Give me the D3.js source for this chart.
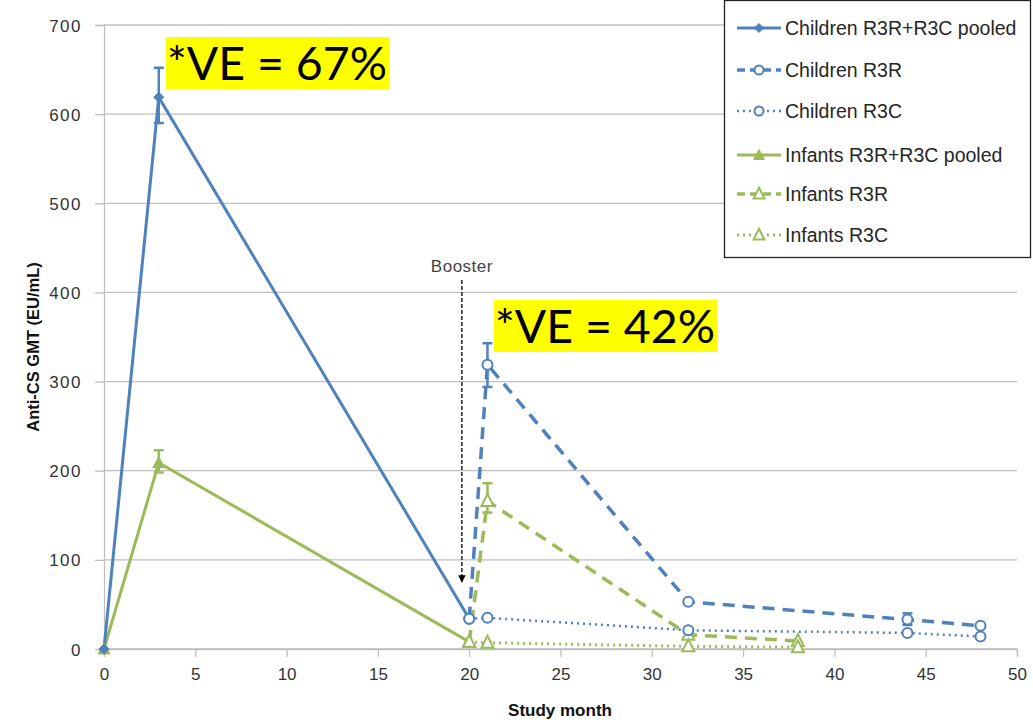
<!DOCTYPE html>
<html><head><meta charset="utf-8">
<script src="https://cdn.jsdelivr.net/npm/d3@7"></script>
<style>body{margin:0;background:#fff}svg{display:block}</style>
</head><body>
<svg id="c" width="1033" height="720"></svg>
<script>
const xTicks = [0,5,10,15,20,25,30,35,40,45,50];
const yTicks = [0,100,200,300,400,500,600,700];

const childPooledX = [0,3,20];
const childPooledY = [0,619,34];
const childR3RX = [20,21,32,44,48];
const childR3RY = [34,319,53,33,26];
const childR3CX = [20,21,32,44,48];
const childR3CY = [34,35,21,18,14];
const infPooledX = [0,3,20];
const infPooledY = [0,209,8];
const infR3RX = [20,21,32,38];
const infR3RY = [8,166,16,9];
const infR3CX = [20,21,32,38];
const infR3CY = [8,7,3,2];

// error bars: [x, low, high]
const childPooledErr = [[3,590,652]];
const childR3RErr = [[21,294,343],[44,27,40]];
const infPooledErr = [[3,198,223]];
const infR3RErr = [[21,153,186]];

const legendLabels = ["Children R3R+R3C pooled","Children R3R","Children R3C","Infants R3R+R3C pooled","Infants R3R","Infants R3C"];

const BLUE = "#4f81bd", GREEN = "#9bbb59";
const series = [
  {name:legendLabels[0], xs:childPooledX, ys:childPooledY, err:childPooledErr, color:BLUE, dash:null, w:3, marker:"diamondFill"},
  {name:legendLabels[1], xs:childR3RX, ys:childR3RY, err:childR3RErr, color:BLUE, dash:"12,8", w:3.5, marker:"circleOpen"},
  {name:legendLabels[2], xs:childR3CX, ys:childR3CY, err:[], color:BLUE, dash:"2,4", w:2.5, marker:"circleOpen"},
  {name:legendLabels[3], xs:infPooledX, ys:infPooledY, err:infPooledErr, color:GREEN, dash:null, w:3, marker:"triFill"},
  {name:legendLabels[4], xs:infR3RX, ys:infR3RY, err:infR3RErr, color:GREEN, dash:"12,8", w:3.5, marker:"triOpen"},
  {name:legendLabels[5], xs:infR3CX, ys:infR3CY, err:[], color:GREEN, dash:"2,4", w:3, marker:"triOpen"}
];

const svg = d3.select("#c");
const x = d3.scaleLinear().domain([0,50]).range([104,1017]);
const y = d3.scaleLinear().domain([0,700]).range([649,25]);
const font = "'Liberation Sans', Arial, sans-serif";

// gridlines
svg.append("g").selectAll("line").data(yTicks).join("line")
  .attr("x1",x(0)).attr("x2",x(50)).attr("y1",d=>y(d)).attr("y2",d=>y(d))
  .attr("stroke","#bfbfbf").attr("stroke-width",1.3);

// axes
const yAxis = svg.append("g").attr("transform",`translate(${x(0)},0)`)
  .call(d3.axisLeft(y).tickValues(yTicks).tickSize(9).tickPadding(13));
const xAxis = svg.append("g").attr("transform",`translate(0,${y(0)})`)
  .call(d3.axisBottom(x).tickValues(xTicks).tickSize(8).tickPadding(11));
[yAxis,xAxis].forEach(a=>{
  a.select(".domain").attr("stroke","#bfbfbf").attr("stroke-width",1.3);
  a.selectAll(".tick line").attr("stroke","#bfbfbf").attr("stroke-width",1.3);
  a.selectAll("text").attr("font-family",font).attr("font-size",17).attr("fill","#333");
});
yAxis.selectAll("text").attr("letter-spacing",1.5).attr("dy","0.36em");

svg.append("text").attr("x",560).attr("y",716).attr("text-anchor","middle")
  .attr("font-family",font).attr("font-weight","bold").attr("font-size",17).attr("fill","#111")
  .text("Study month");
svg.append("text").attr("transform","translate(39,347) rotate(-90)").attr("text-anchor","middle")
  .attr("font-family",font).attr("font-weight","bold").attr("font-size",16.5).attr("fill","#111")
  .text("Anti-CS GMT (EU/mL)");

// marker drawing
function drawMarker(g, type, color, cx, cy, s){
  s = s||1;
  if(type==="diamondFill"){
    g.append("path").attr("d",`M${cx},${cy-5*s}L${cx+5*s},${cy}L${cx},${cy+5*s}L${cx-5*s},${cy}Z`)
      .attr("fill",color).attr("stroke",color).attr("stroke-width",1);
  } else if(type==="circleOpen"){
    g.append("circle").attr("cx",cx).attr("cy",cy).attr("r",5*s)
      .attr("fill","#fff").attr("stroke",color).attr("stroke-width",2);
  } else if(type==="triFill"){
    g.append("path").attr("d",`M${cx},${cy-6*s}L${cx+6*s},${cy+5*s}L${cx-6*s},${cy+5*s}Z`)
      .attr("fill",color).attr("stroke",color).attr("stroke-width",1);
  } else if(type==="triOpen"){
    g.append("path").attr("d",`M${cx},${cy-7*s}L${cx+6*s},${cy+5*s}L${cx-6*s},${cy+5*s}Z`)
      .attr("fill","#fff").attr("stroke",color).attr("stroke-width",2);
  }
}

const line = d3.line().x(d=>x(d[0])).y(d=>y(d[1]));
const plot = svg.append("g");
const gLines = plot.append("g"), gErr = plot.append("g"), gMarks = plot.append("g");
const order = [3,0,4,1,5,2];
order.forEach(i=>{
  const s = series[i];
  const pts = s.xs.map((v,j)=>[v,s.ys[j]]);
  gLines.append("path").attr("d",line(pts)).attr("fill","none").attr("stroke",s.color)
    .attr("stroke-width",s.w).attr("stroke-dasharray",s.dash).attr("stroke-linecap",s.dash?"butt":"round");
  s.err.forEach(e=>{
    const ex = x(e[0]);
    gErr.append("line").attr("x1",ex).attr("x2",ex).attr("y1",y(e[1])).attr("y2",y(e[2]))
      .attr("stroke",s.color).attr("stroke-width",2.5);
    [e[1],e[2]].forEach(v=>gErr.append("line").attr("x1",ex-5).attr("x2",ex+5).attr("y1",y(v)).attr("y2",y(v))
      .attr("stroke",s.color).attr("stroke-width",2.5));
  });
});
order.forEach(i=>{
  const s = series[i];
  s.xs.forEach((v,j)=>drawMarker(gMarks, s.marker, s.color, x(v), y(s.ys[j])));
});

// Booster arrow
svg.append("defs").append("marker").attr("id","ah").attr("viewBox","0 0 10 10")
  .attr("refX",9).attr("refY",5).attr("markerWidth",5).attr("markerHeight",5).attr("orient","auto")
  .append("path").attr("d","M0,0L10,5L0,10Z").attr("fill","#000");
const bx = x(19.6);
svg.append("line").attr("x1",bx).attr("x2",bx).attr("y1",280).attr("y2",582)
  .attr("stroke","#222").attr("stroke-width",1.5).attr("stroke-dasharray","4,2").attr("marker-end","url(#ah)");
svg.append("text").attr("x",bx).attr("y",272).attr("text-anchor","middle")
  .attr("font-family",font).attr("font-size",17).attr("fill","#444").attr("letter-spacing",0.5).text("Booster");

// VE annotations
function ve(xp, yp, txt){
  svg.append("rect").attr("x",xp).attr("y",yp).attr("width",223).attr("height",52).attr("fill","#ffff00");
  svg.append("text").attr("x",xp+1).attr("y",yp+43).attr("font-family","Lato, 'DejaVu Sans', sans-serif")
    .attr("font-size",46).attr("fill","#000").attr("textLength",220).attr("lengthAdjust","spacingAndGlyphs").text(txt);
}
ve(166,37,"*VE = 67%");
ve(494,300,"*VE = 42%");

// legend
const lg = svg.append("g");
lg.append("rect").attr("x",724.5).attr("y",0.5).attr("width",306).attr("height",257)
  .attr("fill","#fff").attr("stroke","#222").attr("stroke-width",1.3);
const ly = [28,70,111,155,194,235];
series.forEach((s,i)=>{
  const yy = ly[i];
  lg.append("line").attr("x1",737).attr("x2",781).attr("y1",yy).attr("y2",yy)
    .attr("stroke",s.color).attr("stroke-width",s.w).attr("stroke-dasharray",s.dash ? (s.dash==="2,4"?"2,4":"8,5") : null);
  drawMarker(lg, s.marker, s.color, 759, yy, 0.9);
  lg.append("text").attr("x",785).attr("y",yy+7).attr("font-family",font).attr("font-size",19.5)
    .attr("fill","#262626").text(s.name);
});
</script>
</body></html>
